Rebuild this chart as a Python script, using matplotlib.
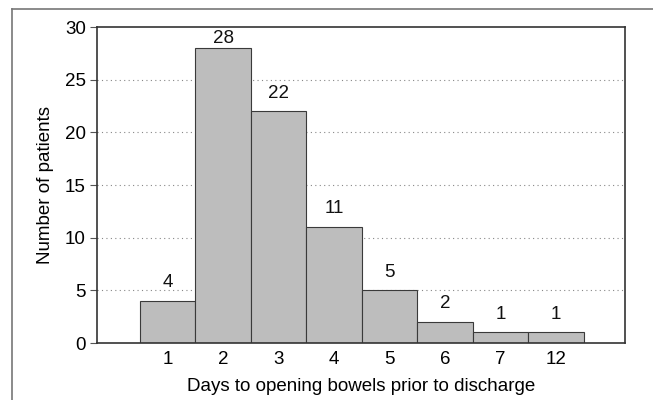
import matplotlib.pyplot as plt
from matplotlib.lines import Line2D

# data
days = ["1", "2", "3", "4", "5", "6", "7", "12"]
patients = [4, 28, 22, 11, 5, 2, 1, 1]
y_ticks = [0, 5, 10, 15, 20, 25, 30]

plt.rcParams["font.family"] = ["Liberation Sans", "DejaVu Sans"]
FS = 13.5

W, H = 653, 400
fig = plt.figure(figsize=(W / 100, H / 100), dpi=100)

# axes box in pixels: left 97, right 625, top 27, bottom 343
ax = fig.add_axes([97 / W, 1 - 343 / H, (625 - 97) / W, (343 - 27) / H])

x = list(range(len(days)))
ax.bar(x, patients, width=1.0, color="#bdbdbd",
       edgecolor="#3a3a3a", linewidth=0.8, zorder=2)

top = max(patients)
for xi, v in zip(x, patients):
    off = 1 if v == top else 7
    ax.annotate(str(v), (xi, v), xytext=(0, off), textcoords="offset points",
                ha="center", va="bottom", fontsize=FS, color="#111111")

ax.set_xlim(-1.27, 8.24)
ax.set_ylim(0, 30)
ax.set_xticks(x)
ax.set_xticklabels(days)
ax.set_yticks(y_ticks)

ax.tick_params(axis="x", length=0, pad=6, labelsize=FS)
ax.tick_params(axis="y", length=5, width=0.8, color="#555555",
               pad=3, labelsize=FS)

for v in y_ticks[1:-1]:
    ax.axhline(v, color="#888888", linestyle=(0, (1, 3)),
               linewidth=0.8, zorder=1)

for s in ax.spines.values():
    s.set_color("#333333")
    s.set_linewidth(1.2)

ax.set_xlabel("Days to opening bowels prior to discharge", fontsize=FS,
              labelpad=7)
ax.set_ylabel("Number of patients", fontsize=FS, labelpad=8)

# outer frame (top and left visible)
fig.add_artist(Line2D([12 / W, 1], [1 - 9 / H, 1 - 9 / H],
                      color="#777777", linewidth=1.2))
fig.add_artist(Line2D([12 / W, 12 / W], [0, 1 - 9 / H],
                      color="#777777", linewidth=1.2))

fig.savefig("out.png", dpi=100)
